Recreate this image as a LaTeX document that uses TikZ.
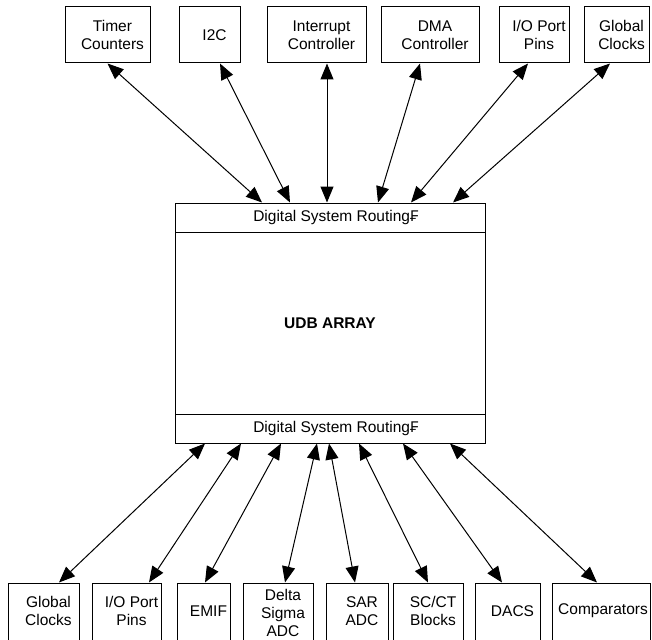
\documentclass[tikz,border=0pt]{standalone}
\usepackage{fontspec}
\setmainfont{Liberation Sans}
\usetikzlibrary{arrows.meta}

\tikzset{
  blk/.style = {draw, line width=1pt, minimum height=56pt, inner sep=0pt},
  blktext/.style = {align=center, xshift=5pt},
  band/.style = {draw, line width=1pt, minimum width=310pt, minimum height=29pt, inner sep=0pt},
  biarrow/.style = {{Triangle[length=16pt,width=13pt]}-{Triangle[length=16pt,width=13pt]}, line width=1pt}
}

\begin{document}
\begin{tikzpicture}
[x = 1pt, y = -1pt,
 font = \fontsize{15.5}{18.3}\selectfont]
\useasboundingbox (0,0) rectangle (652,639);

% peripherals on top
\node[blk, minimum width=85pt, label={[blktext]center:Timer\\Counters}] (timer) at (107.5,35) {};
\node[blk, minimum width=61pt, label={[blktext]center:I2C}] (itwoc) at (209.5,35) {};
\node[blk, minimum width=99pt, label={[blktext]center:Interrupt\\Controller}] (intc) at (316.5,35) {};
\node[blk, minimum width=98pt, label={[blktext]center:DMA\\Controller}] (dma) at (430,35) {};
\node[blk, minimum width=70pt, label={[blktext]center:I/O Port\\Pins}] (tpins) at (534,35) {};
\node[blk, minimum width=65pt, label={[blktext]center:Global\\Clocks}] (tclk) at (616.5,35) {};

% UDB array with the two routing bands
\node[draw, line width=1pt, minimum width=310pt, minimum height=240pt, inner sep=0pt, font=\fontsize{15.5}{18.3}\selectfont\bfseries] (udb) at (330,323) {UDB ARRAY};
\node[band] (dsrtop) at (330,217.5) {};
\node[band] (dsrbot) at (330,428.5) {};
\node[xshift=6pt] (dsrtoptext) at (dsrtop.center) {Digital System Routing₣};
\node[xshift=6pt] (dsrbottext) at (dsrbot.center) {Digital System Routing₣};

% peripherals at the bottom
\node[blk, minimum width=71pt, minimum height=58pt, label={[blktext,yshift=1pt]center:Global\\Clocks}] (bclk) at (43.5,612) {};
\node[blk, minimum width=69pt, minimum height=58pt, label={[blktext,yshift=1pt]center:I/O Port\\Pins}] (bpins) at (126.5,612) {};
\node[blk, minimum width=53pt, minimum height=58pt, label={[blktext,yshift=1pt]center:EMIF}] (emif) at (203.5,612) {};
\node[blk, minimum width=70pt, minimum height=58pt, label={[blktext,yshift=-1pt]center:Delta\\Sigma\\ADC}] (dsadc) at (278,612) {};
\node[blk, minimum width=62pt, minimum height=58pt, label={[blktext,yshift=1pt]center:SAR\\ADC}] (sar) at (357,612) {};
\node[blk, minimum width=70pt, minimum height=58pt, label={[blktext,yshift=1pt]center:SC/CT\\Blocks}] (scct) at (428,612) {};
\node[blk, minimum width=65pt, minimum height=58pt, label={[blktext,yshift=1pt]center:DACS}] (dacs) at (507.5,612) {};
\node[blk, minimum width=98pt, minimum height=58pt, label={[align=center,xshift=2pt,yshift=1pt]center:Comparators}] (comp) at (601,612) {};

\draw[biarrow] (timer.south) -- ([xshift=-68pt]dsrtop.north);
\draw[biarrow] ([xshift=10.5pt]itwoc.south) -- ([xshift=-40pt]dsrtop.north);
\draw[biarrow] ([xshift=10.5pt]intc.south) -- ([xshift=-3pt]dsrtop.north);
\draw[biarrow] ([xshift=-10pt]dma.south) -- ([xshift=48pt]dsrtop.north);
\draw[biarrow] ([xshift=-6pt]tpins.south) -- ([xshift=81pt]dsrtop.north);
\draw[biarrow] ([xshift=-6.5pt]tclk.south) -- ([xshift=123pt]dsrtop.north);

\draw[biarrow] ([xshift=-125pt]dsrbot.south) -- ([xshift=15.5pt]bclk.north);
\draw[biarrow] ([xshift=-89pt]dsrbot.south) -- ([xshift=22.5pt]bpins.north);
\draw[biarrow] ([xshift=-49pt]dsrbot.south) -- ([xshift=1.5pt]emif.north);
\draw[biarrow] ([xshift=-13pt]dsrbot.south) -- ([xshift=7pt]dsadc.north);
\draw[biarrow] ([xshift=-1pt]dsrbot.south) -- ([xshift=-2pt]sar.north);
\draw[biarrow] ([xshift=29pt]dsrbot.south) -- (scct.north);
\draw[biarrow] ([xshift=73pt]dsrbot.south) -- ([xshift=-5.5pt]dacs.north);
\draw[biarrow] ([xshift=120pt]dsrbot.south) -- ([xshift=-4pt]comp.north);
\end{tikzpicture}
\end{document}
